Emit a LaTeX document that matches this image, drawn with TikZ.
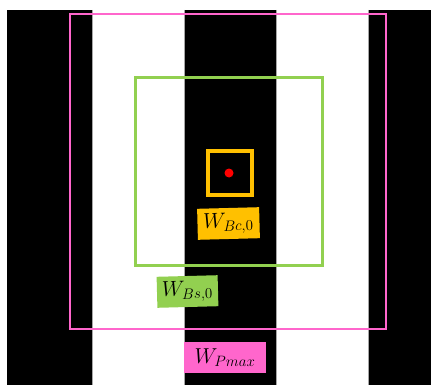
\documentclass[tikz,border=0pt]{standalone}
\usepackage{graphicx}
\definecolor{pinkc}{HTML}{FF66CC}
\definecolor{greenc}{HTML}{92D050}
\definecolor{orangec}{HTML}{FFC000}
\definecolor{redc}{HTML}{FF0000}
\newcommand{\biglab}[1]{\scalebox{1.25}{\fontsize{17.28}{20}\selectfont$#1$}}
\tikzset{
  stripe/.style={fill=black,draw=none},
  sep/.style={draw=gray!70,line width=0.8pt},
  lab/.style={inner sep=0pt,minimum height=31pt},
}
\begin{document}
\begin{tikzpicture}[x=1pt,y=-1pt]
\useasboundingbox (0,0) rectangle (431,385);
\fill[white] (0,0) rectangle (431,385);
% stripes
\fill[stripe] (7,10) rectangle (92,385);
\fill[stripe] (184,10) rectangle (276,385);
\fill[stripe] (368,10) rectangle (431,385);
\foreach \x in {92,184,276,368} \draw[sep] (\x,10) -- (\x,385);
% frames
\node[draw=pinkc,line width=2.5pt,minimum width=316pt,minimum height=315pt,inner sep=0pt] (pmax) at (228,171.5) {};
\node[draw=greenc,line width=3pt,minimum width=187pt,minimum height=187pt,inner sep=0pt] (bs) at (228.5,171.5) {};
\node[draw=orangec,line width=3.2pt,minimum width=44pt,minimum height=44pt,inner sep=0pt] (bc) at (230,173) {};
\node[circle,fill=redc,minimum size=9pt,inner sep=0pt] (dot) at (229,173) {};
% labels
\node[lab,fill=orangec,minimum width=62pt,rotate=1.5] (lbc) at (228.5,223.5) {\biglab{W_{Bc,0}}};
\node[lab,fill=greenc,minimum width=61pt,rotate=1.5] (lbs) at (187.5,291.5) {\biglab{W_{Bs,0}}};
\node[lab,fill=pinkc,minimum width=82pt] (lpm) at (225,357.5) {\biglab{W_{Pmax}}};
\end{tikzpicture}
\end{document}
